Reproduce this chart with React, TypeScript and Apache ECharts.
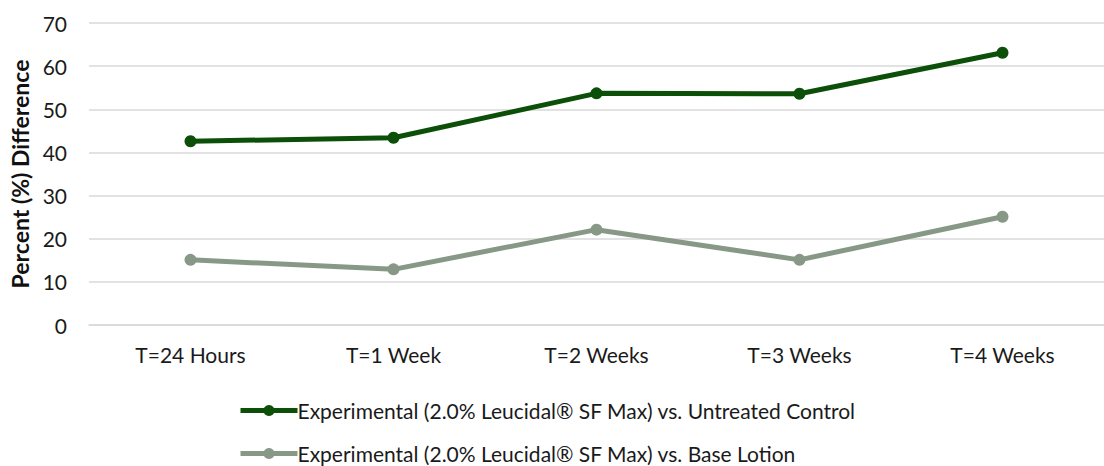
import React, { useEffect, useRef } from "react";
import * as echarts from "echarts";

const categories = ["T=24 Hours", "T=1 Week", "T=2 Weeks", "T=3 Weeks", "T=4 Weeks"];
const untreatedControl = [42.6, 43.4, 53.7, 53.6, 63.1];
const baseLotion = [15.1, 12.9, 22.1, 15.1, 25.1];
const seriesNames = [
  "Experimental (2.0% Leucidal\u00AE SF Max) vs. Untreated Control",
  "Experimental (2.0% Leucidal\u00AE SF Max) vs. Base Lotion",
];
const yTicks = { min: 0, max: 70, interval: 10 };

const FONT = "Lato, 'Open Sans', sans-serif";

export default function App() {
  const ref = useRef<HTMLDivElement>(null);
  useEffect(() => {
    if (!ref.current) return;
    const chart = echarts.init(ref.current, undefined, { renderer: "svg" });
    const legendCommon = {
      orient: "horizontal",
      left: 238,
      padding: 0,
      itemWidth: 57,
      itemHeight: 14,
      lineStyle: { width: 5 },
      textStyle: { color: "#1a1a1a", fontSize: 21, fontFamily: FONT, padding: [0, 0, 0, -5] },
    };
    chart.setOption({
      animation: false,
      backgroundColor: "#ffffff",
      textStyle: { fontFamily: FONT },
      grid: { left: 89, top: 23, width: 1028, height: 302, containLabel: false },
      xAxis: {
        type: "category",
        data: categories,
        boundaryGap: true,
        axisLine: { show: true, lineStyle: { color: "#d9d9d9", width: 1.5 } },
        axisTick: { show: false },
        axisLabel: { color: "#1a1a1a", fontSize: 21, fontFamily: FONT, margin: 19 },
      },
      yAxis: {
        type: "value",
        min: yTicks.min,
        max: yTicks.max,
        interval: yTicks.interval,
        name: "Percent (%) Difference",
        nameLocation: "middle",
        nameGap: 56,
        nameRotate: 90,
        nameTextStyle: { color: "#111", fontSize: 23, fontWeight: "bold", fontFamily: FONT },
        axisLine: { show: false },
        axisTick: { show: false },
        axisLabel: { color: "#1a1a1a", fontSize: 21, fontFamily: FONT, margin: 22 },
        splitLine: { lineStyle: { color: "#d9d9d9", width: 1.5 } },
      },
      legend: [
        { ...legendCommon, top: 400, data: [seriesNames[0]] },
        { ...legendCommon, top: 443, data: [seriesNames[1]] },
      ],
      series: [
        {
          name: seriesNames[0],
          type: "line",
          data: untreatedControl,
          symbol: "circle",
          symbolSize: 12,
          lineStyle: { color: "#0c4f08", width: 5 },
          itemStyle: { color: "#0c4f08" },
        },
        {
          name: seriesNames[1],
          type: "line",
          data: baseLotion,
          symbol: "circle",
          symbolSize: 12,
          lineStyle: { color: "#879886", width: 5 },
          itemStyle: { color: "#879886" },
        },
      ],
    });
    return () => chart.dispose();
  }, []);
  return (
    <div
      ref={ref}
      style={{ position: "fixed", left: 0, top: 0, width: 1104, height: 466 }}
    />
  );
}
